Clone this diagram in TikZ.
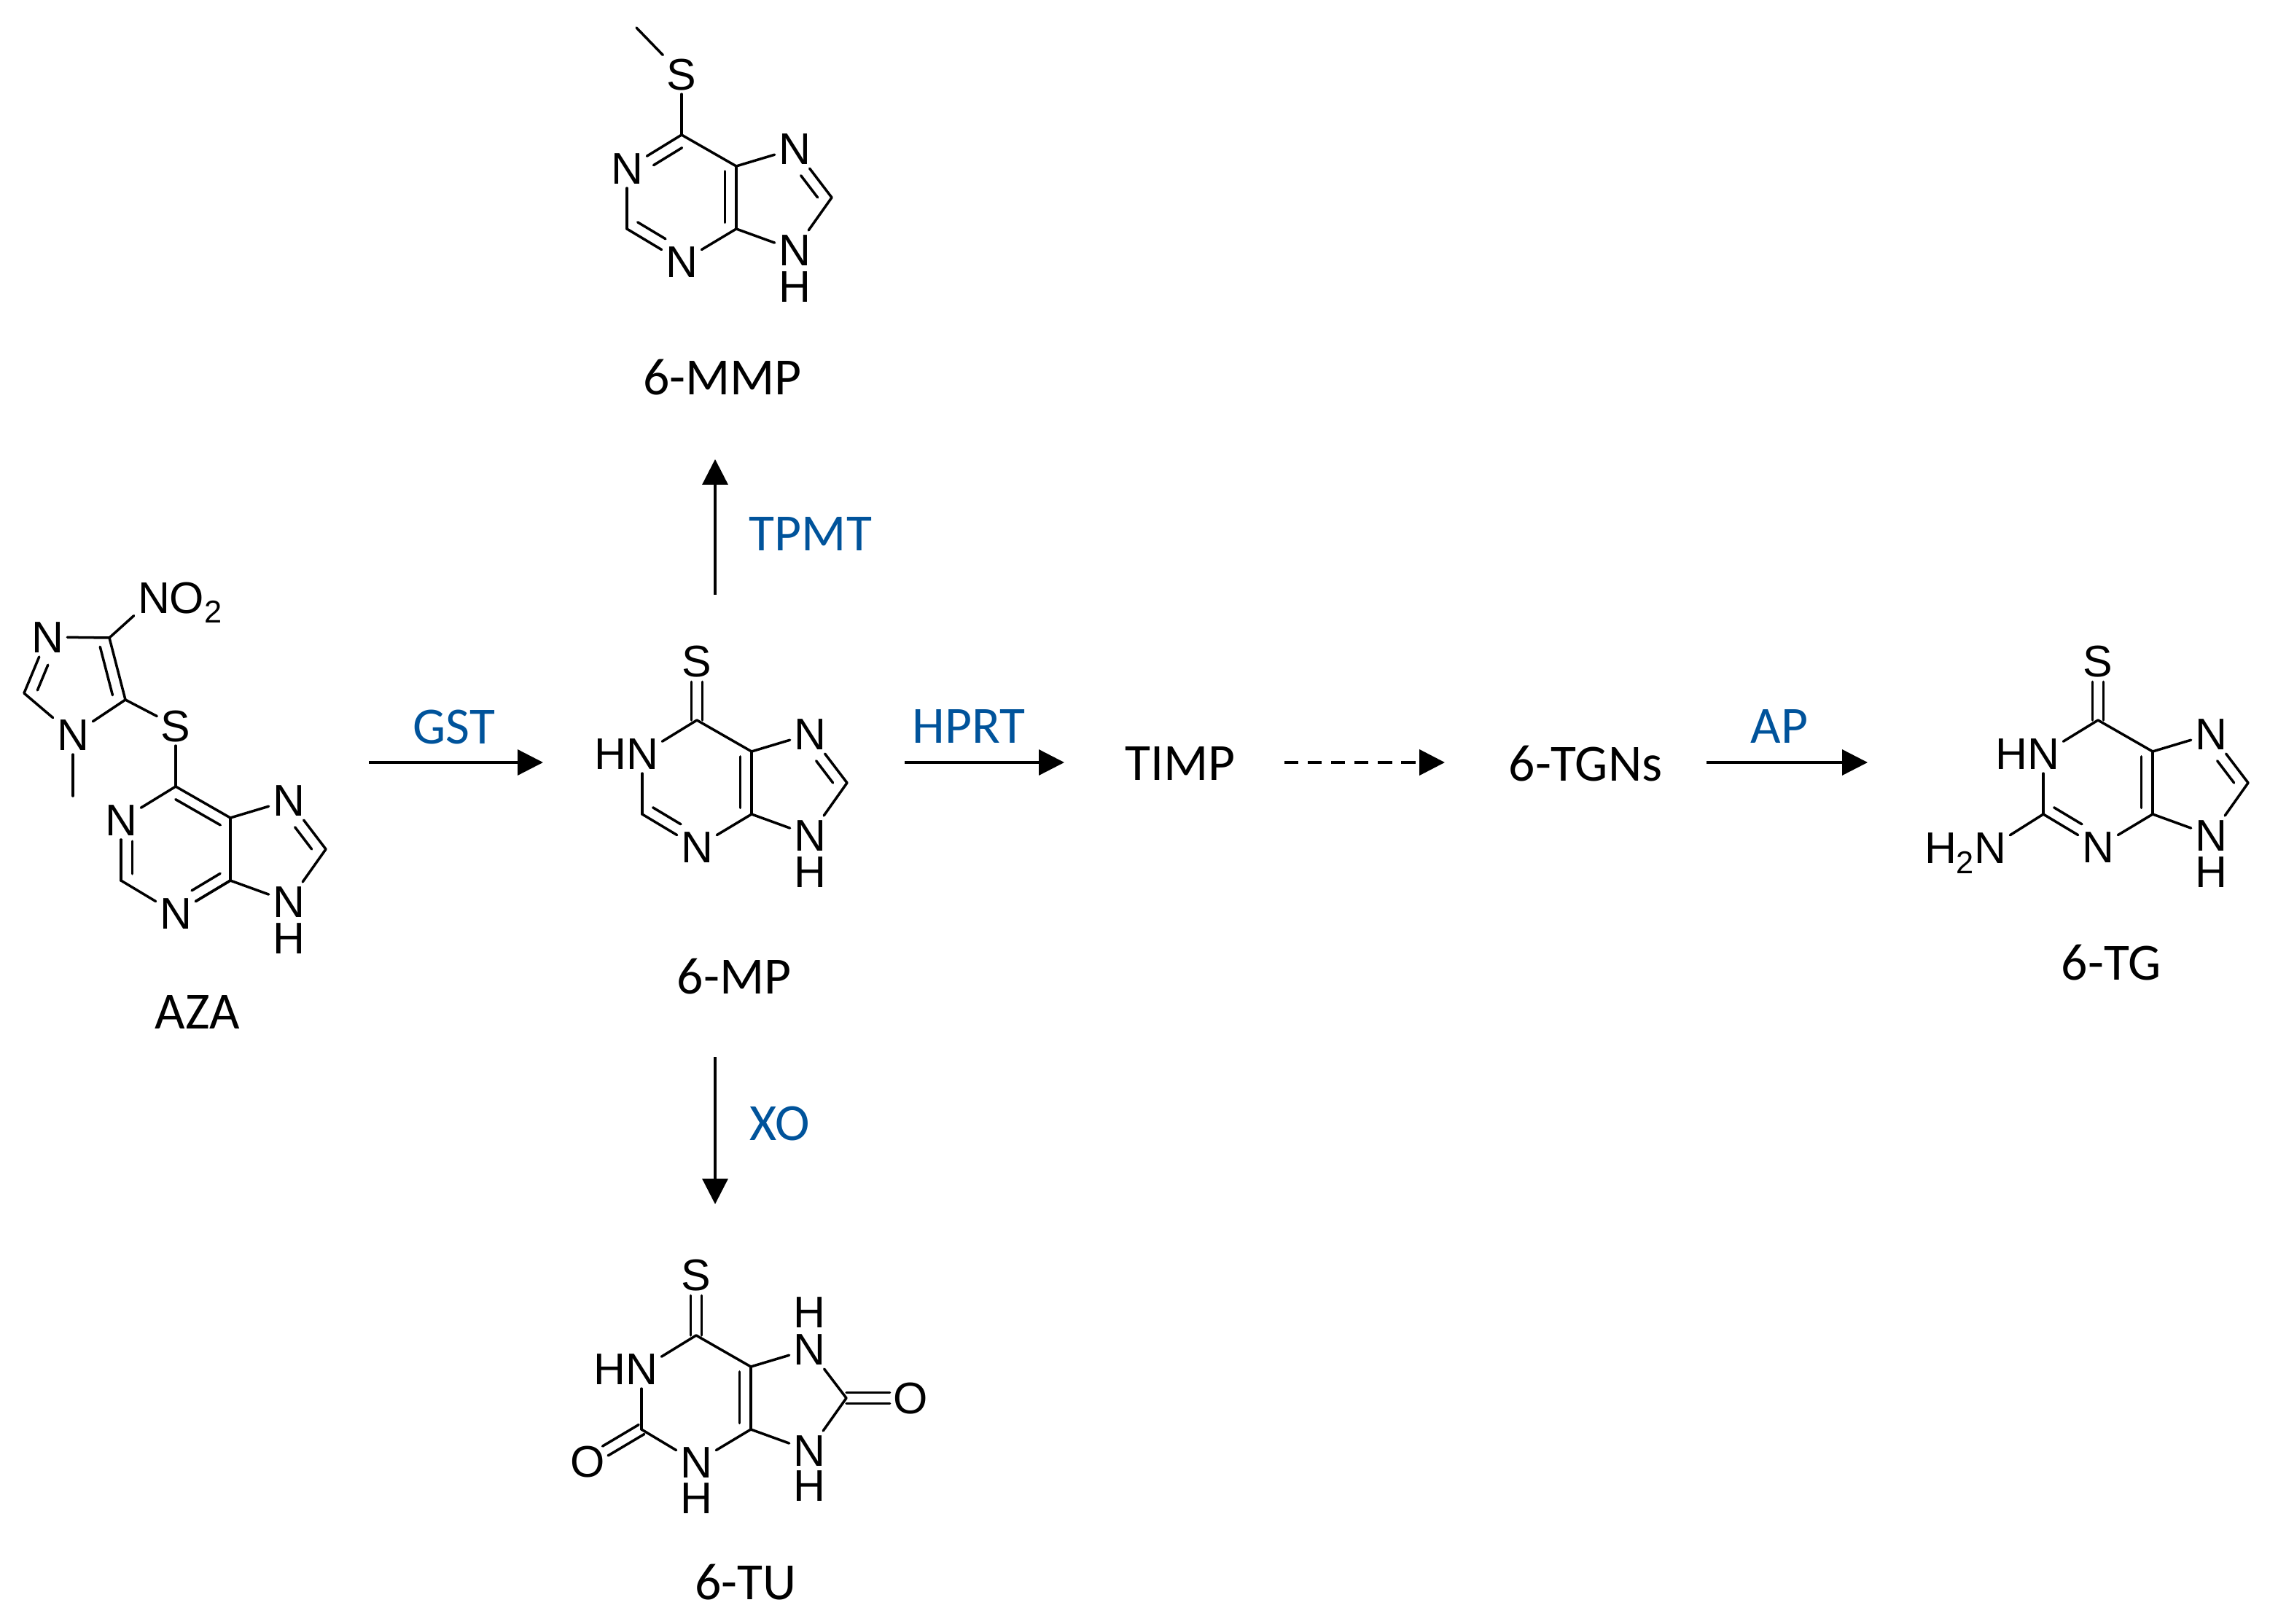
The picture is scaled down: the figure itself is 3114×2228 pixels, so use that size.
\documentclass[tikz,border=0pt]{standalone}
\usepackage{fontspec}
\setmainfont{Carlito}
\newfontfamily\atomf{Liberation Sans}
\usetikzlibrary{arrows.meta,calc}
\definecolor{enzblue}{RGB}{0,83,155}
\tikzset{
  bond/.style={line width=.84pt,line cap=round,black},
  atom/.style={font=\atomf\fontsize{14.6}{14.6}\selectfont,text height=10.4pt,text depth=0pt,inner sep=1.3pt,outer sep=0pt},
  cpd/.style={font=\fontsize{17.2}{20}\selectfont,black,inner sep=0pt},
  enz/.style={font=\fontsize{17.2}{20}\selectfont,enzblue,inner sep=0pt},
  rxn/.style={line width=.8pt,-{Triangle[length=8.4pt,width=8.4pt]}},
  rxndash/.style={rxn,line width=1pt,dash pattern=on 4.6pt off 3.1pt},
}
\newcommand\sng[2]{\draw[bond] (#1) -- (#2);}
% #1 from, #2 to, #3 side angle, #4 #5 fractions of the inner line
\newcommand\dbl[5]{\draw[bond] (#1) -- (#2);
  \draw[bond] ($($(#1)!#4!(#2)$)!3.7pt!#3:(#2)$) -- ($($(#1)!#5!(#2)$)!3.7pt!#3:(#2)$);}
% exocyclic double bond, two lines either side of the axis
\newcommand\sdbl[2]{%
  \draw[bond,shorten >=6.8pt] ($(#1)!1.8pt!90:(#2)$) -- ($(#2)!1.8pt!-90:(#1)$);
  \draw[bond,shorten >=6.8pt] ($(#1)!1.8pt!-90:(#2)$) -- ($(#2)!1.8pt!90:(#1)$);}
\newcommand\subtwo{\raisebox{-3.2pt}{\fontsize{10.4}{10.4}\selectfont 2}}
% common purine skeleton; #1 is the text at position 1
\newcommand\purine[1]{%
  \coordinate (C6) at (0,0);
  \coordinate (C5) at (75,43);
  \coordinate (C4) at (75,129);
  \coordinate (C2) at (-75,129);
  \coordinate (C8) at (206,86);
  \node[atom] (N1) at (-75,46) {#1};
  \node[atom] (N3) at (0,174) {N};
  \node[atom] (N7) at (155,19) {N};
  \node[atom] (N9) at (155,158) {N};
  \sng{N7}{C5}\sng{C4}{N9}\sng{C8}{N9}\sng{C4}{N3}\sng{N1}{C2}
}
\begin{document}
\begin{tikzpicture}[x=.24pt,y=-.24pt]
\useasboundingbox (0,0) rectangle (3114,2228);

% 6-MMP
\begin{scope}[shift={(935,185)},name prefix=mmp-]
  \purine{N}
  \node[atom] (H9) at (155,208) {H};
  \node[atom] (S) at (0,-83) {S};
  \coordinate (Me) at (-62,-147);
  \sng{C6}{S}\sng{Me}{S}\sng{C6}{C5}
  \dbl{C6}{N1}{90}{.1}{.62}
  \dbl{C2}{N3}{90}{.09}{.6}
  \dbl{C5}{C4}{-90}{.08}{.9}
  \dbl{N7}{C8}{-90}{.41}{.86}
\end{scope}

% 6-MP
\begin{scope}[shift={(956,988)},name prefix=mp-]
  \purine{\llap{H}N}
  \node[atom] (H9) at (155,208) {H};
  \node[atom] (S) at (0,-81) {S};
  \sng{C6}{N1}\sng{C6}{C5}
  \sdbl{C6}{S}
  \dbl{C2}{N3}{90}{.09}{.6}
  \dbl{C5}{C4}{-90}{.08}{.9}
  \dbl{N7}{C8}{-90}{.41}{.86}
\end{scope}

% 6-TG
\begin{scope}[shift={(2878,988)},name prefix=tg-]
  \purine{\llap{H}N}
  \node[atom] (H9) at (155,208) {H};
  \node[atom] (S) at (0,-81) {S};
  \node[atom] (NH) at (-148,175) {\llap{H\subtwo}N};
  \sng{C6}{N1}\sng{C2}{NH}\sng{C6}{C5}
  \sdbl{C6}{S}
  \dbl{C2}{N3}{90}{.09}{.6}
  \dbl{C5}{C4}{-90}{.08}{.9}
  \dbl{N7}{C8}{-90}{.41}{.86}
\end{scope}

% 6-TU
\begin{scope}[shift={(955,1832)},name prefix=tu-]
  \purine{\llap{H}N}
  \node[atom] (H3) at (0,223) {H};
  \node[atom] (H9) at (155,206) {H};
  \node[atom] (H7) at (155,-32) {H};
  \node[atom] (S) at (0,-83) {S};
  \node[atom] (O2) at (-149,173) {O};
  \node[atom] (O8) at (294,86) {O};
  \sng{C6}{N1}\sng{C2}{N3}\sng{N7}{C8}\sng{C6}{C5}
  \sdbl{C6}{S}\sdbl{C2}{O2}\sdbl{C8}{O8}
  \dbl{C5}{C4}{-90}{.08}{.9}
\end{scope}

% AZA
\begin{scope}[shift={(241,1079)},name prefix=aza-]
  \purine{N}
  \node[atom] (H9) at (155,208) {H};
  \node[atom] (S) at (0,-83) {S};
  \sng{C6}{N1}\sng{C6}{S}\sng{C5}{C4}\sng{C2}{N3}
  \dbl{C6}{C5}{-90}{.1}{.92}
  \dbl{N1}{C2}{90}{.35}{.89}
  \dbl{C4}{N3}{-90}{.08}{.6}
  \dbl{N7}{C8}{-90}{.41}{.86}
  \node[atom] (Ni3) at (-176,-205) {N};
  \node[atom] (Ni1) at (-141,-71) {N};
  \node[atom] (Nn) at (-30,-259) {N\rlap{O\subtwo}};
  \coordinate (Ci4) at (-91,-204);
  \coordinate (Ci5) at (-69,-119);
  \coordinate (Ci2) at (-208,-128);
  \coordinate (Me) at (-141,13);
  \sng{Ni3}{Ci4}\sng{Ci5}{Ni1}\sng{Ni1}{Ci2}\sng{Ci4}{Nn}\sng{Ci5}{S}\sng{Ni1}{Me}
  \dbl{Ci4}{Ci5}{-90}{.1}{.88}
  \dbl{Ni3}{Ci2}{90}{.42}{.87}
\end{scope}

% compound labels
\node[cpd] (MMPlab) at (991,518) {6-MMP};
\node[cpd] (MPlab) at (1007,1340) {6-MP};
\node[cpd] (TUlab) at (1023,2171) {6-TU};
\node[cpd] (TGlab) at (2896,1321) {6-TG};
\node[cpd] (AZAlab) at (271,1388) {AZA};
\node[cpd] (TIMP) at (1619,1048) {TIMP};
\node[cpd] (TGN) at (2175,1048) {6-TGNs};

% enzymes
\node[enz] (GST) at (623,997) {GST};
\node[enz] (HPRT) at (1329,997) {HPRT};
\node[enz] (AP) at (2441,997) {AP};
\node[enz] (TPMT) at (1112,733) {TPMT};
\node[enz] (XO) at (1070,1541) {XO};

% reaction arrows
\coordinate (gstS) at (506,1046);
\coordinate (gstE) at (745,1046);
\coordinate (hprtS) at (1241,1046);
\coordinate (hprtE) at (1460,1046);
\coordinate (dashS) at (1762,1046);
\coordinate (dashE) at (1982,1046);
\coordinate (apS) at (2341,1046);
\coordinate (apE) at (2562,1046);
\coordinate (tpS) at (981,816);
\coordinate (tpE) at (981,630);
\coordinate (xoS) at (981,1450);
\coordinate (xoE) at (981,1652);
\draw[rxn] (gstS) -- (gstE);
\draw[rxn] (hprtS) -- (hprtE);
\draw[rxn] (apS) -- (apE);
\draw[rxn] (tpS) -- (tpE);
\draw[rxn] (xoS) -- (xoE);
\draw[rxndash] (dashS) -- (dashE);
\end{tikzpicture}
\end{document}
